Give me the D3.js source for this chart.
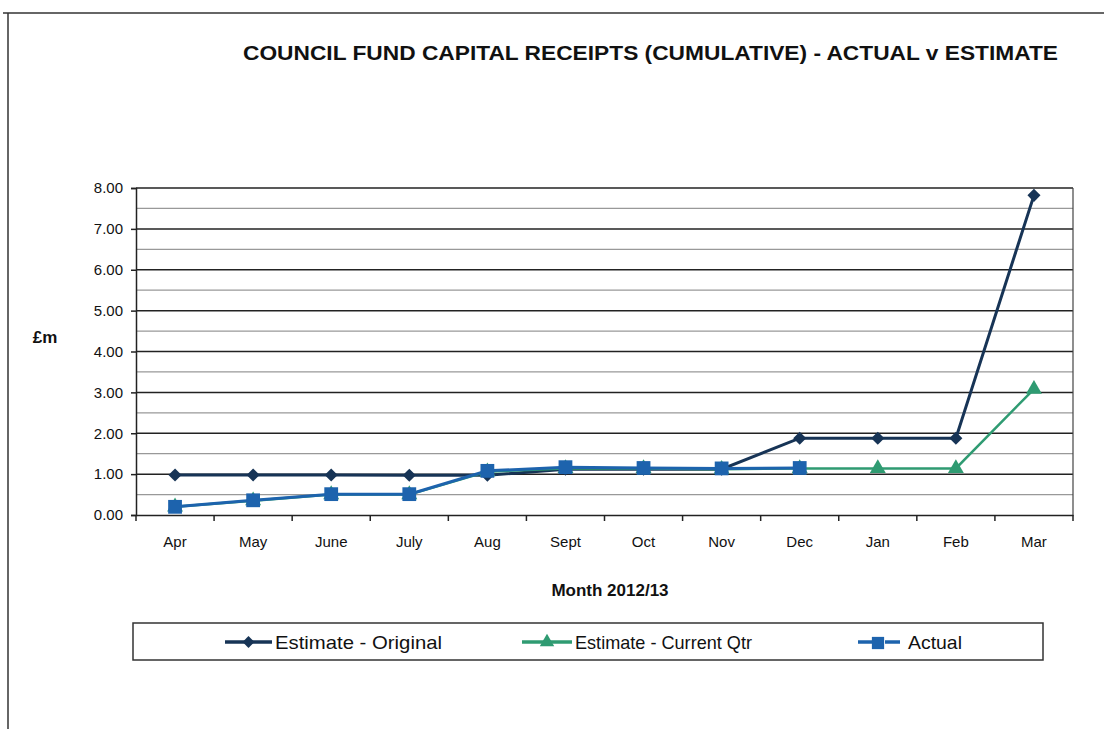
<!DOCTYPE html>
<html><head><meta charset="utf-8">
<script src="https://cdn.jsdelivr.net/npm/d3@7"></script>
<style>body{margin:0;background:#fff}svg{display:block}text{font-family:"Liberation Sans",Arial,sans-serif}</style>
</head><body>
<script>
const months = ["Apr","May","June","July","Aug","Sept","Oct","Nov","Dec","Jan","Feb","Mar"];
const estimateOriginal = [0.98,0.98,0.98,0.97,0.97,1.12,1.12,1.12,1.88,1.88,1.88,7.82];
const estimateCurrentQtr = [0.20,0.35,0.50,0.50,1.06,1.14,1.14,1.12,1.14,1.14,1.14,3.08];
const actual = [0.20,0.36,0.51,0.51,1.08,1.17,1.15,1.14,1.15];
const yTicks = [0,1,2,3,4,5,6,7,8];
const minorTicks = [0.5,1.5,2.5,3.5,4.5,5.5,6.5,7.5];

const W=1104,H=729;
const svg=d3.select("body").append("svg").attr("width",W).attr("height",H);
const L=136,R=1073,T=188,B=515;
const x=d3.scaleBand().domain(months).range([L,R]);
const y=d3.scaleLinear().domain([0,8]).range([B,T]);
const cx=m=>x(m)+x.bandwidth()/2;

// outer frame
svg.append("line").attr("x1",3).attr("x2",W).attr("y1",13).attr("y2",13).attr("stroke","#333").attr("stroke-width",1.5);
svg.append("line").attr("x1",8).attr("x2",8).attr("y1",13).attr("y2",H).attr("stroke","#333").attr("stroke-width",1.5);

svg.append("text").attr("x",243).attr("y",60).attr("font-size",21).attr("font-weight","bold")
  .attr("textLength",815).attr("lengthAdjust","spacingAndGlyphs").attr("fill","#111")
  .text("COUNCIL FUND CAPITAL RECEIPTS (CUMULATIVE) - ACTUAL v ESTIMATE");

// grid
svg.append("g").selectAll("line").data(minorTicks).join("line")
  .attr("x1",L).attr("x2",R).attr("y1",d=>y(d)).attr("y2",d=>y(d)).attr("stroke","#999").attr("stroke-width",1.2);
svg.append("g").selectAll("line").data(yTicks.filter(d=>d>0)).join("line")
  .attr("x1",L).attr("x2",R).attr("y1",d=>y(d)).attr("y2",d=>y(d)).attr("stroke","#222").attr("stroke-width",1.5);
svg.append("line").attr("x1",R).attr("x2",R).attr("y1",T).attr("y2",B).attr("stroke","#444").attr("stroke-width",1.2);

// y axis
const ya=svg.append("g").attr("transform",`translate(${L},0)`)
  .call(d3.axisLeft(y).tickValues(yTicks).tickFormat(d3.format(".2f")).tickSize(5).tickPadding(8));
ya.select(".domain").attr("stroke","#222").attr("stroke-width",1.5);
ya.selectAll("line").attr("stroke","#222").attr("stroke-width",1.5);
ya.selectAll("text").attr("font-size",15).attr("fill","#111").attr("font-family","Liberation Sans, Arial, sans-serif");

// x axis
const xa=svg.append("g").attr("transform",`translate(0,${B})`)
  .call(d3.axisBottom(x).tickSize(0).tickPadding(21));
xa.select(".domain").attr("stroke","#222").attr("stroke-width",1.5);
xa.selectAll("text").attr("font-size",15).attr("fill","#111").attr("font-family","Liberation Sans, Arial, sans-serif");
svg.append("g").selectAll("line").data(d3.range(months.length+1)).join("line")
  .attr("x1",i=>L+i*x.step()).attr("x2",i=>L+i*x.step()).attr("y1",B).attr("y2",B+6)
  .attr("stroke","#222").attr("stroke-width",1.5);

svg.append("text").attr("x",45).attr("y",343).attr("text-anchor","middle").attr("font-size",17).attr("font-weight","bold").attr("fill","#111").text("£m");
svg.append("text").attr("x",610).attr("y",596).attr("text-anchor","middle").attr("font-size",17).attr("font-weight","bold").attr("fill","#111").text("Month 2012/13");

const cOrig="#173456", cCur="#2f9b72", cAct="#1d63ad";
const line=d3.line().x((d,i)=>cx(months[i])).y(d=>y(d));
function marker(sel,shape,size){
  if(shape==="diamond") sel.attr("d",d3.symbol().type(d3.symbolSquare).size(size)()).attr("transform",function(){return this.getAttribute("transform")+" rotate(45)";});
  else sel.attr("d",d3.symbol().type(shape).size(size)());
}
function series(data,color,w,shape,size){
  svg.append("path").datum(data).attr("d",line).attr("fill","none").attr("stroke",color).attr("stroke-width",w);
  const m=svg.append("g").selectAll("path").data(data).join("path")
    .attr("transform",(d,i)=>`translate(${cx(months[i])},${y(d)})`).attr("fill",color);
  marker(m,shape,size);
}
series(estimateOriginal,cOrig,3,"diamond",85);
series(estimateCurrentQtr,cCur,2.5,d3.symbolTriangle,110);
series(actual,cAct,3,d3.symbolSquare,190);

// legend
svg.append("rect").attr("x",133).attr("y",623).attr("width",910).attr("height",37).attr("fill","none").attr("stroke","#333").attr("stroke-width",1.5);
const leg=[
 {name:"Estimate - Original",c:cOrig,s:"diamond",sz:70,x1:225,x2:272,tx:275,tl:167},
 {name:"Estimate - Current Qtr",c:cCur,s:d3.symbolTriangle,sz:90,x1:522,x2:572,tx:575,tl:177},
 {name:"Actual",c:cAct,s:d3.symbolSquare,sz:150,x1:858,x2:900,tx:908,tl:54}
];
leg.forEach(l=>{
  const ly=642;
  if(l.name==="Actual"){
    svg.append("line").attr("x1",l.x1).attr("x2",l.x1+14).attr("y1",ly).attr("y2",ly).attr("stroke",l.c).attr("stroke-width",3.5);
    svg.append("line").attr("x1",l.x1+27).attr("x2",l.x2).attr("y1",ly).attr("y2",ly).attr("stroke",l.c).attr("stroke-width",3.5);
    const p=svg.append("path").attr("transform",`translate(${l.x1+20},${ly+1})`).attr("fill",l.c);
    marker(p,l.s,l.sz);
  } else {
    svg.append("line").attr("x1",l.x1).attr("x2",l.x2).attr("y1",ly).attr("y2",ly).attr("stroke",l.c).attr("stroke-width",3.5);
    const p=svg.append("path").attr("transform",`translate(${(l.x1+l.x2)/2},${ly})`).attr("fill",l.c);
    marker(p,l.s,l.sz);
  }
  svg.append("text").attr("x",l.tx).attr("y",ly+7).attr("font-size",19).attr("fill","#111")
    .attr("textLength",l.tl).attr("lengthAdjust","spacingAndGlyphs").text(l.name);
});
</script>
</body></html>
